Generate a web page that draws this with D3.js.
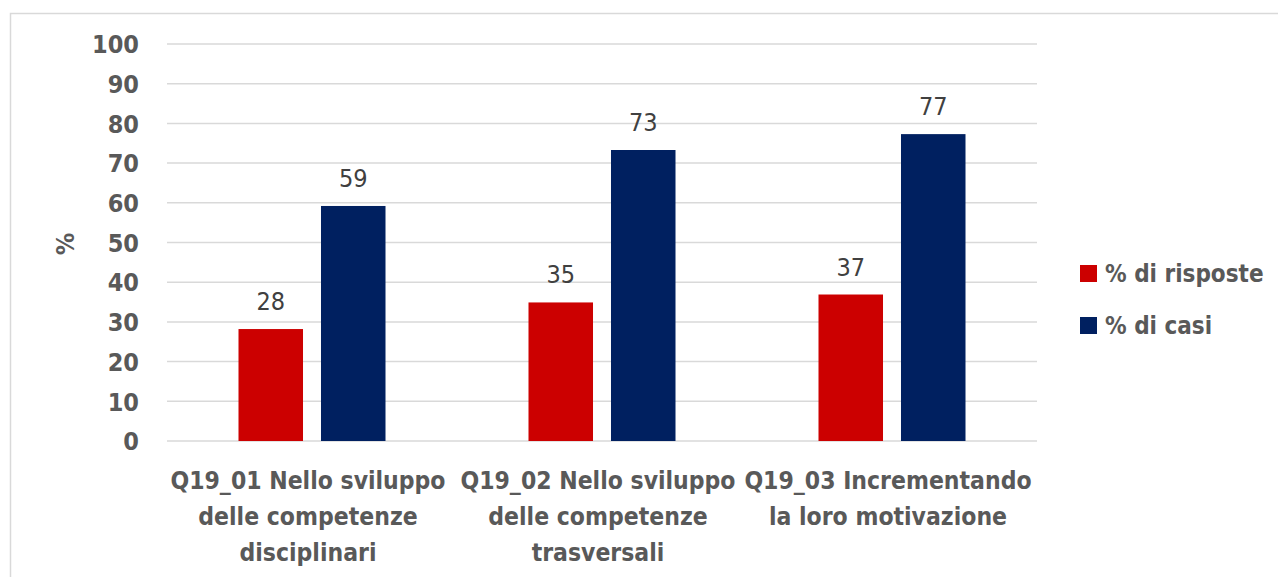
<!DOCTYPE html>
<html>
<head>
<meta charset="utf-8">
<script src="https://cdn.jsdelivr.net/npm/d3@7"></script>
<style>
  html, body { margin: 0; padding: 0; background: #fff; }
  svg { display: block; }
  text { font-family: "DejaVu Sans Condensed", "Liberation Sans Narrow", sans-serif; }
</style>
</head>
<body>
<svg id="chart" width="1278" height="577"></svg>
<script>
const categories = [
  ["Q19_01 Nello sviluppo", "delle competenze", "disciplinari"],
  ["Q19_02 Nello sviluppo", "delle competenze", "trasversali"],
  ["Q19_03 Incrementando", "la loro motivazione"]
];
const categoryIds = ["Q19_01", "Q19_02", "Q19_03"];
const seriesNames = ["% di risposte", "% di casi"];
const risposte = [28.2, 34.9, 36.9];
const casi = [59.2, 73.3, 77.3];
const yTicks = [0, 10, 20, 30, 40, 50, 60, 70, 80, 90, 100];
const yLabel = "%";
const colors = ["#CC0000", "#002060"];

const svg = d3.select("#chart");

// frame
svg.append("path")
  .attr("d", "M10.5,577 L10.5,13.5 L1278,13.5")
  .attr("fill", "none").attr("stroke", "#d9d9d9").attr("stroke-width", 1.5);

const y = d3.scaleLinear().domain([0, 100]).range([441, 44]);
const x0 = d3.scaleBand().domain(categoryIds).range([167, 1037]).padding(0);
const groupW = 147;
const x1 = d3.scaleBand().domain(seriesNames).range([0, groupW]).paddingInner(0.218).paddingOuter(0);
const color = d3.scaleOrdinal().domain(seriesNames).range(colors);

// gridlines
svg.append("g").selectAll("line").data(yTicks).join("line")
  .attr("x1", 167).attr("x2", 1037)
  .attr("y1", d => y(d)).attr("y2", d => y(d))
  .attr("stroke", "#d9d9d9").attr("stroke-width", 1.5);

// y axis labels
const yAxis = d3.axisLeft(y).tickValues(yTicks).tickSize(0).tickPadding(0);
const ya = svg.append("g").attr("transform", "translate(139,0)").call(yAxis);
ya.select(".domain").remove();
ya.selectAll("text")
  .attr("font-family", "'DejaVu Sans Condensed','Liberation Sans Narrow',sans-serif")
  .attr("font-size", 25).attr("font-weight", "bold").attr("fill", "#595959")
  .attr("dy", "0.35em");

// y title
svg.append("text")
  .attr("transform", "translate(74,244) rotate(-90)")
  .attr("text-anchor", "middle")
  .attr("font-size", 25).attr("font-weight", "bold").attr("fill", "#595959")
  .text(yLabel);

// bars
const rows = categoryIds.map((c, i) => ({ id: c, values: [
  { s: seriesNames[0], v: risposte[i] },
  { s: seriesNames[1], v: casi[i] }
]}));

const groups = svg.append("g").selectAll("g").data(rows).join("g")
  .attr("transform", d => `translate(${x0(d.id) + (x0.bandwidth() - groupW) / 2},0)`);

groups.selectAll("rect").data(d => d.values).join("rect")
  .attr("x", d => x1(d.s))
  .attr("y", d => y(d.v))
  .attr("width", x1.bandwidth())
  .attr("height", d => y(0) - y(d.v))
  .attr("fill", d => color(d.s));

groups.selectAll("text.val").data(d => d.values).join("text")
  .attr("class", "val")
  .attr("x", d => x1(d.s) + x1.bandwidth() / 2)
  .attr("y", d => y(d.v) - 19)
  .attr("text-anchor", "middle")
  .attr("font-size", 25).attr("fill", "#404040")
  .text(d => d3.format(".0f")(d.v));

// x labels
const xl = svg.append("g").selectAll("text").data(rows).join("text")
  .attr("x", d => x0(d.id) + x0.bandwidth() / 2 - 4)
  .attr("y", 489)
  .attr("text-anchor", "middle")
  .attr("font-size", 24.5).attr("font-weight", "bold").attr("fill", "#595959");
xl.each(function(d, i) {
  d3.select(this).selectAll("tspan").data(categories[i]).join("tspan")
    .attr("x", x0(d.id) + x0.bandwidth() / 2 - 4)
    .attr("dy", (t, j) => j === 0 ? 0 : 36)
    .text(t => t);
});

// legend
const legend = svg.append("g").selectAll("g").data(seriesNames).join("g")
  .attr("transform", (d, i) => `translate(1080,${265 + i * 52})`);
legend.append("rect").attr("width", 17).attr("height", 17).attr("fill", d => color(d));
legend.append("text").attr("x", 25).attr("y", 8.5).attr("dy", "0.35em")
  .attr("font-size", 24).attr("font-weight", "bold").attr("fill", "#595959")
  .text(d => d);
</script>
</body>
</html>
